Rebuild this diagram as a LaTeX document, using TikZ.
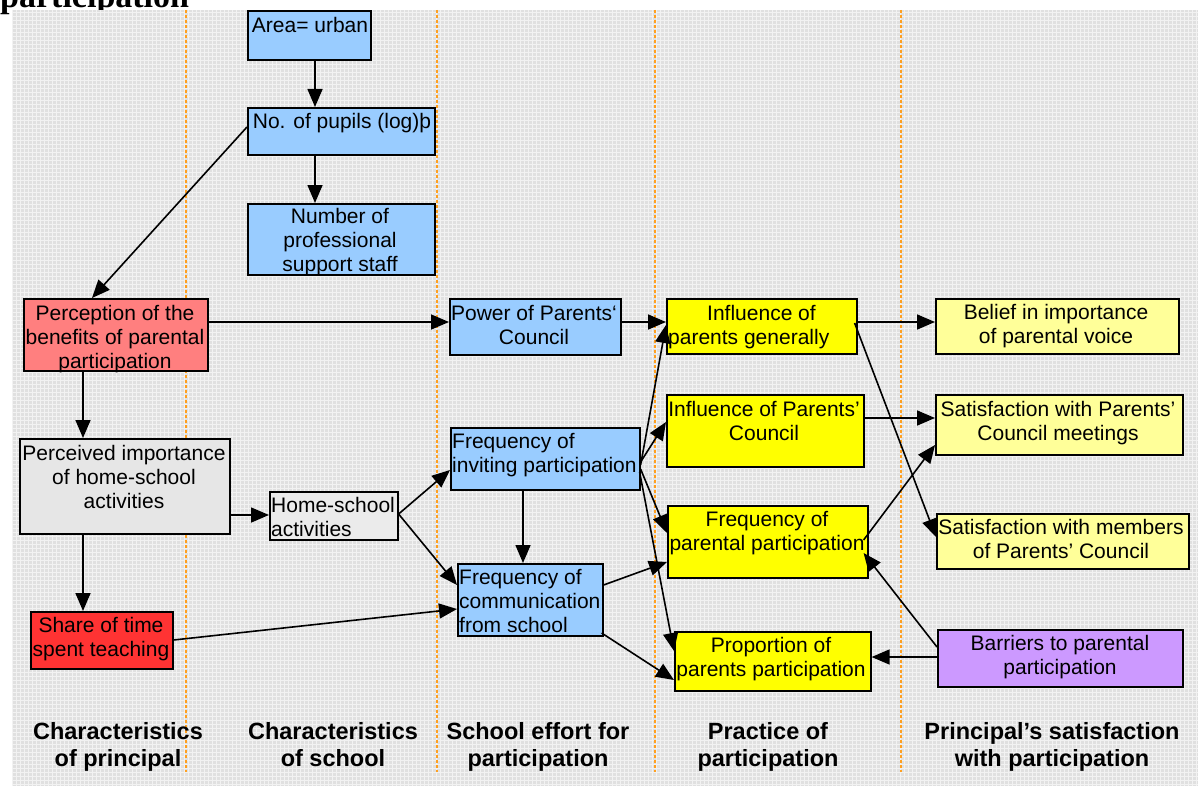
\documentclass[tikz,border=0pt]{standalone}
\usepackage{fontspec}
\setmainfont{Liberation Sans}
\newfontfamily\titlefont{Liberation Serif}
\usetikzlibrary{arrows.meta,calc}
\definecolor{lblue}{HTML}{99CCFF}
\definecolor{salmon}{HTML}{FF7F7F}
\definecolor{lgrey}{HTML}{E6E6E6}
\definecolor{hsgrey}{HTML}{EBEBEB}
\definecolor{bred}{HTML}{FF3333}
\definecolor{byellow}{HTML}{FFFF00}
\definecolor{pyellow}{HTML}{FFFF99}
\definecolor{lav}{HTML}{CC99FF}
\definecolor{bggrey}{HTML}{E0E0E0}
\definecolor{dashorange}{HTML}{FFA020}
\newcommand\mkbox[6]{\node[box,fill=#6,minimum width={#4-#2},minimum height={#5-#3}] (#1) at (#2,#3) {};}
\begin{document}
\begin{tikzpicture}[x=1pt,y=-1pt,
  box/.style={draw=black,line width=1.6pt,inner sep=0pt,anchor=north west,rectangle},
  txt/.style={font=\fontsize{21}{24}\selectfont,align=center,inner sep=0pt,anchor=north},
  ltxt/.style={font=\fontsize{21}{24}\selectfont,align=left,inner sep=0pt,anchor=north west},
  head/.style={font=\bfseries\fontsize{23.5}{27}\selectfont,align=center,inner sep=0pt,anchor=north},
  arr/.style={-{Triangle[length=18pt,width=15pt]},line width=1.6pt},
  sep/.style={draw=dashorange,line width=1.1pt,dash pattern=on 3pt off 2pt}]
\useasboundingbox (0,0) rectangle (1198,789);
\node[font=\titlefont\bfseries\fontsize{34}{40}\selectfont,anchor=base west,inner sep=0pt] (title) at (0,8) {participation};
\fill[bggrey] (12,10) rectangle (1198,786);
\draw[white,line width=0.9pt,step=4pt,opacity=0.6] (12,10) grid (1198,786);
\draw[sep] (186,10) -- (186,772);
\draw[sep] (437,10) -- (437,772);
\draw[sep] (655,10) -- (655,772);
\draw[sep] (901,10) -- (901,772);
% boxes
\mkbox{area}{247}{10}{370}{59}{lblue}
\mkbox{pupils}{247}{107}{434}{154}{lblue}
\mkbox{staff}{247}{203}{434}{274}{lblue}
\mkbox{perc}{23}{298}{207}{370}{salmon}
\mkbox{imp}{19}{438}{229}{533}{lgrey}
\mkbox{share}{30}{611}{172}{668}{bred}
\mkbox{hs}{269}{491}{397}{539}{hsgrey}
\mkbox{power}{449}{298}{620}{354}{lblue}
\mkbox{inv}{450}{427}{639}{489}{lblue}
\mkbox{comm}{457}{563}{602}{635}{lblue}
\mkbox{gen}{666}{298}{856}{353}{byellow}
\mkbox{pc}{666}{394}{863}{466}{byellow}
\mkbox{par}{667}{505}{867}{577}{byellow}
\mkbox{prop}{674}{631}{870}{690}{byellow}
\mkbox{belief}{935}{298}{1178}{353}{pyellow}
\mkbox{meet}{935}{394}{1182}{454}{pyellow}
\mkbox{members}{936}{513}{1188}{568}{pyellow}
\mkbox{bar}{937}{629}{1182}{686}{lav}
% texts
\node[txt] (areat) at (310,17.5) {Area= urban};
\node[txt] (pupilst) at (342,113.5) {No. of pupils (log)þ};
\node[txt] (stafft) at (340,208.5) {Number of\\professional\\support staff};
\node[txt] (perct) at (115,305.5) {Perception of the\\benefits of parental\\participation};
\node[txt] (impt) at (124,445.5) {Perceived importance\\of home-school\\activities};
\node[txt] (sharet) at (101,617.5) {Share of time\\spent teaching};
\node[ltxt] (hst) at (271,497.5) {Home-school\\activities};
\node[txt] (powert) at (534,305.5) {Power of Parents‘\\Council};
\node[ltxt] (invt) at (452,433.5) {Frequency of\\inviting participation};
\node[ltxt] (commt) at (459,569.5) {Frequency of\\communication\\from school};
\node[ltxt] (gent) at (668,305.5) {\hspace*{39pt}Influence of\\parents generally};
\node[txt] (pct) at (764,401.5) {Influence of Parents’\\Council};
\node[txt] (part) at (767,511.5) {Frequency of\\parental participation};
\node[txt] (propt) at (771,637.5) {Proportion of\\parents participation};
\node[txt] (belieft) at (1056,304.5) {Belief in importance\\of parental voice};
\node[txt] (meett) at (1058,401.5) {Satisfaction with Parents’\\Council meetings};
\node[txt] (memberst) at (1061,519.5) {Satisfaction with members\\of Parents’ Council};
\node[txt] (bart) at (1060,635.5) {Barriers to parental\\participation};
% column headings
\node[head] (h1) at (118,722.6) {Characteristics\\of principal};
\node[head] (h2) at (333,722.6) {Characteristics\\of school};
\node[head] (h3) at (538,722.6) {School effort for\\participation};
\node[head] (h4) at (768,722.6) {Practice of\\participation};
\node[head] (h5) at (1052,722.6) {Principal’s satisfaction\\with participation};
% connectors
\draw[arr] ($(area.south west)+(68,0)$) -- ($(pupils.north west)+(68,0)$);
\draw[arr] ($(pupils.south west)+(68,0)$) -- ($(staff.north west)+(68,0)$);
\draw[arr] ($(pupils.north west)+(0,20)$) -- ($(perc.north west)+(69,0)$);
\draw[arr] ($(perc.north east)+(0,24)$) -- ($(power.north west)+(0,24)$);
\draw[arr] ($(perc.south west)+(60,0)$) -- ($(imp.north west)+(64,0)$);
\draw[arr] ($(imp.south west)+(64,0)$) -- ($(share.north west)+(53,0)$);
\draw[arr] ($(imp.north east)+(0,77)$) -- ($(hs.north west)+(0,24)$);
\draw[arr] ($(hs.north east)+(0,23)$) -- ($(inv.north west)+(0,43)$);
\draw[arr] ($(hs.north east)+(0,23)$) -- ($(comm.north west)+(0,22)$);
\draw[arr] ($(inv.south west)+(73,0)$) -- ($(comm.north west)+(66,0)$);
\draw[arr] ($(share.north east)+(0,29)$) -- ($(comm.north west)+(0,46)$);
\draw[arr] ($(power.north east)+(0,24)$) -- ($(gen.north west)+(0,24)$);
\draw[arr] ($(inv.north east)+(0,38)$) -- ($(gen.north west)+(0,27)$);
\draw[arr] ($(inv.north east)+(0,35)$) -- ($(pc.north west)+(0,28)$);
\draw[arr] ($(inv.north east)+(0,42)$) -- ($(par.north west)+(0,28)$);
\draw[arr] ($(inv.north east)+(-1,45)$) -- ($(prop.north west)+(0,20)$);
\draw[arr] ($(comm.north east)+(0,22)$) -- ($(par.north west)+(0,57)$);
\draw[arr] ($(comm.north east)+(-2,70)$) -- ($(prop.north west)+(0,49)$);
\draw[arr] ($(gen.north east)+(0,24)$) -- ($(belief.north west)+(0,24)$);
\draw[arr] ($(gen.north east)+(-3,25)$) -- ($(members.north west)+(0,24)$);
\draw[arr] ($(pc.north east)+(0,24)$) -- ($(meet.north west)+(0,24)$);
\draw[arr] ($(par.north east)+(-5,35)$) -- ($(meet.north west)+(0,51)$);
\draw[arr] ($(bar.north west)+(0,28)$) -- ($(prop.north east)+(0,26)$);
\draw[arr] ($(bar.north west)+(0,18)$) -- ($(par.north east)+(-5,48)$);
\end{tikzpicture}
\end{document}
